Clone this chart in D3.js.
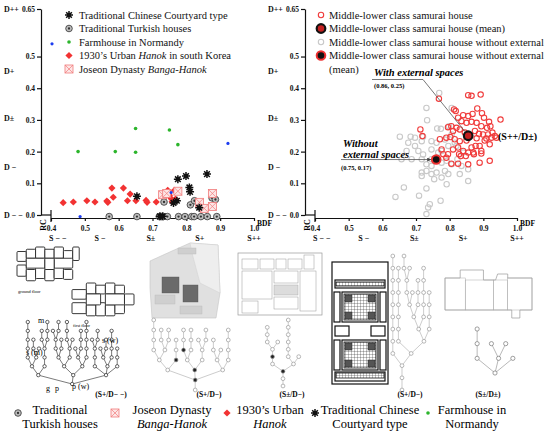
<!DOCTYPE html>
<html>
<head>
<meta charset="utf-8">
<script src="https://cdn.jsdelivr.net/npm/d3@7"></script>
<style>
  body { margin: 0; background: #fff; }
  text { font-family: "Liberation Serif", "Times New Roman", serif; }
</style>
</head>
<body>
<div class="canvas"></div>
<script>
// ---- axis data
const xTicks = [0.4, 0.5, 0.6, 0.7, 0.8, 0.9, 1.0]
const yTicks = [0, 0.1, 0.2, 0.3, 0.4, 0.5, 0.65]
const dLabels = ['D++', 'D+', 'D±', 'D −', 'D − −']
const dLevels = [0.65, 0.455, 0.305, 0.15, 0]
const sLabels = ['S − −', 'S −', 'S±', 'S+', 'S++']
const sLevels = [0.42, 0.545, 0.695, 0.84, 1.0]

// ---- left chart series [BDF, RC]
const chinese = [[0.654, 0.059], [0.775, 0.113], [0.799, 0.123], [0.861, 0.129], [0.809, 0.087],
  [0.811, 0.073], [0.772, 0.045], [0.762, 0.038], [0.838, 0.023], [0.722, -0.004], [0.73, -0.004]]
const turkish = [[0.572, -0.005], [0.654, -0.005], [0.72, -0.005], [0.726, -0.005], [0.732, -0.005],
  [0.744, -0.005], [0.777, -0.005], [0.796, -0.005], [0.816, -0.005], [0.823, -0.005], [0.843, -0.005],
  [0.862, -0.005], [0.89, -0.005], [0.734, 0.041], [0.812, 0.032], [0.824, 0.045], [0.876, 0.054], [0.886, 0.049]]
const normandy = [[0.48, 0.2], [0.59, 0.2], [0.65, 0.198], [0.65, 0.273], [0.75, 0.268], [0.775, 0.222]]
const hanok1930 = [[0.436, 0.039], [0.466, 0.041], [0.506, 0.045], [0.53, 0.041], [0.565, 0.044],
  [0.568, 0.04], [0.584, 0.056], [0.58, 0.085], [0.614, 0.085], [0.626, 0.045], [0.634, 0.066],
  [0.651, 0.045], [0.681, 0.046], [0.684, 0.04], [0.711, 0.041], [0.745, 0.078], [0.75, 0.062],
  [0.755, 0.052], [0.758, 0.042], [0.765, 0.078], [0.768, 0.05]]
const banga = [[0.73, 0.064], [0.742, 0.068], [0.775, 0.075], [0.877, 0.068], [0.839, 0.04],
  [0.853, 0.021], [0.877, 0.027]]
const unlisted = [[0.403, 0.54], [0.486, -0.005], [0.923, 0.226], [0.755, 0.071]]

// ---- right chart series
const samurai = [[0.768, 0.367], [0.855, 0.378], [0.865, 0.376], [0.892, 0.38], [0.813, 0.333],
  [0.818, 0.328], [0.882, 0.336], [0.84, 0.315], [0.855, 0.312], [0.868, 0.319], [0.896, 0.321],
  [0.902, 0.307], [0.951, 0.301], [0.825, 0.307], [0.835, 0.296], [0.85, 0.291], [0.865, 0.294],
  [0.88, 0.291], [0.917, 0.294], [0.921, 0.28], [0.911, 0.275], [0.894, 0.28], [0.795, 0.277],
  [0.805, 0.28], [0.82, 0.275], [0.81, 0.265], [0.83, 0.27], [0.845, 0.26], [0.875, 0.265],
  [0.887, 0.256], [0.899, 0.254], [0.914, 0.254], [0.927, 0.26], [0.934, 0.249], [0.939, 0.244],
  [0.924, 0.244], [0.909, 0.241], [0.713, 0.27], [0.719, 0.249], [0.771, 0.239], [0.79, 0.244],
  [0.802, 0.246], [0.815, 0.239], [0.83, 0.233], [0.85, 0.235], [0.88, 0.242], [0.904, 0.235],
  [0.919, 0.223], [0.889, 0.218], [0.877, 0.218], [0.865, 0.213], [0.825, 0.213], [0.81, 0.207],
  [0.84, 0.202], [0.855, 0.197], [0.87, 0.197], [0.894, 0.202], [0.776, 0.207], [0.781, 0.192],
  [0.795, 0.192], [0.828, 0.192], [0.833, 0.186], [0.848, 0.186], [0.872, 0.192], [0.894, 0.194],
  [0.889, 0.165], [0.919, 0.171], [0.805, 0.162], [0.825, 0.162], [0.855, 0.16], [0.79, 0.181]]
const samuraiNoExt = [[0.769, 0.385], [0.731, 0.338], [0.733, 0.299], [0.774, 0.272], [0.763, 0.273],
  [0.806, 0.338], [0.684, 0.247], [0.697, 0.244], [0.721, 0.247], [0.652, 0.247], [0.677, 0.228],
  [0.697, 0.218], [0.717, 0.233], [0.746, 0.233], [0.761, 0.228], [0.786, 0.238], [0.796, 0.218],
  [0.815, 0.228], [0.707, 0.202], [0.721, 0.191], [0.746, 0.207], [0.766, 0.197], [0.776, 0.202],
  [0.672, 0.202], [0.657, 0.176], [0.687, 0.176], [0.717, 0.176], [0.746, 0.176], [0.731, 0.16],
  [0.746, 0.155], [0.776, 0.165], [0.791, 0.171], [0.806, 0.16], [0.823, 0.176], [0.835, 0.155],
  [0.717, 0.134], [0.731, 0.139], [0.746, 0.129], [0.761, 0.134], [0.786, 0.139], [0.796, 0.129],
  [0.776, 0.118], [0.717, 0.123], [0.754, 0.113], [0.83, 0.129], [0.855, 0.144], [0.855, 0.107],
  [0.791, 0.097], [0.664, 0.087], [0.731, 0.084], [0.709, 0.061], [0.639, 0.057], [0.741, 0.034],
  [0.736, 0.024], [0.731, 0.003], [0.773, 0.045], [0.806, 0.254], [0.82, 0.218], [0.84, 0.197], [0.798, 0.28]]
const meanExt = [0.855, 0.25]
const meanNoExt = [0.76, 0.175]

// ---- legends
const leftLegend = ['Traditional Chinese Courtyard type', 'Traditional Turkish houses', 'Farmhouse in Normandy',
  '1930’s Urban |Hanok| in south Korea', 'Joseon Dynasty |Banga-Hanok|']
const rightLegend = ['Middle-lower class samurai house', 'Middle-lower class samurai house (mean)',
  'Middle-lower class samurai house without  external', 'Middle-lower class samurai house without  external']

// ---- lower panels: graph labels, tree branching (children per node, breadth first)
const panelLabels = ['(S+/D− −)', '(S+/D−)', '(S±/D−)', '(S+/D−)', '(S±/D±)']
const tree1 = [3, 2, 2, 3, 2, 1, 2, 2, 1, 2, 1, 1, 2, 1, 2, 1, 2, 1, 1, 2, 1, 1, 1, 1, 0, 2, 1, 1, 2, 0, 1, 1, 2,
  0, 1, 1, 0, 1, 0, 1, 1, 2, 0, 1, 0, 1, 1, 0, 1, 0, 1, 1, 0, 1, 0, 1, 1, 0, 1]
const tree2 = [1, 3, 2, 2, 2, 2, 1, 2, 1, 2, 1, 1, 2, 1, 1, 1, 2, 1, 0, 1, 1, 1, 1, 0, 1, 1, 0, 1, 0, 1, 1]
const tree2Dark = ['1', '3', '6', '14']
const tree3 = [1, 1, 2, 1, 2, 1, 1, 0, 2, 1, 1, 0, 1, 1, 1, 0, 1]
const tree3Dark = ['2', '5']
const tree4 = [1, 1, 2, 1, 2, 1, 1, 2, 1, 1, 2, 1, 1, 1, 2, 1, 1, 1, 1, 2, 1, 1, 1, 1, 1, 1, 0, 1, 1, 0, 1, 1, 2, 0, 1, 1, 0, 1]
const tree5 = [3, 1, 2, 0, 1, 0, 0]

// plan geometry, [x, y, w, h] in each plan's own units
const groundRooms = [[0, 1, 2, 2.2], [2, 0.5, 2, 2], [4, 0, 2, 2.5], [6, 0.5, 2, 2], [8, 0, 2, 2.5], [10, 0.8, 2, 2],
  [12, 0, 1.4, 3], [0, 4, 2, 2.5], [2, 5, 2, 2.5], [4, 4.5, 2, 2.5], [6, 5, 2, 2.5], [8, 4.5, 2, 2.5], [10, 5, 2, 2.2],
  [2, 2.5, 4, 2.2], [8, 2.5, 4, 2.2], [6, 2.5, 2, 2.5]]
const firstRooms = [[3, 0, 2, 2.5], [5, 0.5, 2, 2], [7, 0, 2, 2.5], [9, 0.5, 2, 2], [0, 1.5, 3, 2.2], [0, 4.5, 3, 2.5],
  [3, 5, 2, 2.5], [5, 4.5, 2, 3], [7, 5, 2, 2.5], [9, 4.5, 2, 2.5], [11, 2.5, 2, 2.5], [3, 2.5, 3, 2.5], [7, 2.5, 4, 2.5]]
const plan2Outline = [[0, 18], [22, 8], [40, 0], [68, 2], [70, 50], [66, 75], [2, 75], [0, 45]]
const plan2Light = [[40, 0], [68, 2], [70, 50], [50, 40], [42, 10]]
const plan2Dark = [[12, 34, 17, 16], [33, 42, 15, 17]]
const plan2Mid = [[28, 5, 18, 6], [5, 52, 20, 9], [30, 63, 22, 8]]
const plan3Rooms = [[4, 14, 16, 10], [22, 14, 14, 10], [38, 14, 10, 10], [50, 14, 14, 10], [66, 10, 10, 14],
  [4, 26, 30, 28], [36, 26, 24, 12], [36, 52, 24, 12], [4, 56, 16, 12], [62, 26, 16, 40]]
const plan4Rooms = [[0, 0, 56, 122], [3, 18, 50, 8], [10, 30, 36, 30], [10, 78, 36, 30], [3, 64, 14, 10],
  [39, 64, 14, 10], [3, 110, 50, 9], [2, 30, 6, 30], [48, 30, 6, 30], [2, 78, 6, 30], [48, 78, 6, 30]]
const plan5Outline = [[0, 10], [15, 10], [15, 2], [38, 2], [38, 12], [50, 12], [52, 6], [62, 6], [62, 10],
  [86, 10], [86, 42], [74, 42], [74, 50], [66, 50], [66, 42], [0, 42]]
const bottomLegend = [['Traditional', 'Turkish houses'], ['Joseon Dynasty', '|Banga-Hanok|'],
  ['1930’s Urban', '|Hanok|'], ['Traditional Chinese', 'Courtyard type'], ['Farmhouse in', 'Normandy']]

const svg = d3.select('.canvas').append('svg').attr('width', 550).attr('height', 441)
const FONT = '"Liberation Serif", "Times New Roman", serif'
const defs = svg.append('defs')

// text with |italic| parts
const richText = (sel, str) => {
  str.split('|').forEach((part, i) => {
    if (part) sel.append('tspan').attr('font-style', i % 2 ? 'italic' : 'normal').text(part)
  })
  return sel
}

// ---- markers
const mark = {
  chinese (g, x, y, r = 4) {
    const p = d3.path()
    for (let a = 0; a < 4; a++) {
      const t = a * Math.PI / 4
      p.moveTo(x - r * Math.cos(t), y - r * Math.sin(t))
      p.lineTo(x + r * Math.cos(t), y + r * Math.sin(t))
    }
    g.append('path').attr('d', p.toString()).attr('stroke', '#111').attr('stroke-width', 1.5)
    g.append('circle').attr('cx', x).attr('cy', y).attr('r', 1.7).attr('fill', '#111')
  },
  turkish (g, x, y, r = 3.3) {
    g.append('circle').attr('cx', x).attr('cy', y).attr('r', r).attr('fill', '#bdbdbd').attr('stroke', '#444').attr('stroke-width', 0.9)
    g.append('circle').attr('cx', x).attr('cy', y).attr('r', r * 0.35).attr('fill', '#333')
  },
  normandy (g, x, y, r = 1.8) {
    g.append('circle').attr('cx', x).attr('cy', y).attr('r', r).attr('fill', '#2cb52c')
  },
  hanok (g, x, y, s = 26) {
    g.append('path').attr('d', d3.symbol(d3.symbolSquare, s)())
      .attr('transform', `translate(${x},${y}) rotate(45)`).attr('fill', '#f23232')
  },
  banga (g, x, y, s = 8) {
    const h = s / 2
    g.append('rect').attr('x', x - h).attr('y', y - h).attr('width', s).attr('height', s)
      .attr('fill', '#fde6e6').attr('stroke', '#f07a7a').attr('stroke-width', 0.8)
    g.append('path').attr('d', `M${x - h},${y - h}L${x + h},${y + h}M${x + h},${y - h}L${x - h},${y + h}`)
      .attr('stroke', '#f07a7a').attr('stroke-width', 0.7)
  },
  blue (g, x, y) {
    g.append('circle').attr('cx', x).attr('cy', y).attr('r', 1.6).attr('fill', '#1c3cf0')
  },
  red (g, x, y) {
    g.append('circle').attr('cx', x).attr('cy', y).attr('r', 2.7).attr('fill', 'none').attr('stroke', '#f03c3c').attr('stroke-width', 1.1)
  },
  grey (g, x, y) {
    g.append('circle').attr('cx', x).attr('cy', y).attr('r', 2.7).attr('fill', 'none').attr('stroke', '#c9c9c9').attr('stroke-width', 1.1)
  },
  meanExt (g, x, y) {
    g.append('circle').attr('cx', x).attr('cy', y).attr('r', 4.3).attr('fill', '#c42020').attr('stroke', '#111').attr('stroke-width', 2.2)
  },
  meanNoExt (g, x, y) {
    g.append('circle').attr('cx', x).attr('cy', y).attr('r', 4.3).attr('fill', '#111').attr('stroke', '#ee3030').attr('stroke-width', 2)
  }
}

// ---- chart frame
const y = d3.scaleLinear().domain([0, 0.65]).range([215, 9])
const baseY = 218

const frame = (xr, axisAt, dAt) => {
  const x = d3.scaleLinear().domain([0.4, 1.0]).range(xr)
  const g = svg.append('g')

  const ya = g.append('g').attr('transform', `translate(${axisAt},0)`)
    .call(d3.axisLeft(y).tickValues(yTicks).tickSize(4).tickSizeOuter(0).tickPadding(2)
      .tickFormat(d => d === 0.65 ? '0.65' : d.toFixed(1)))
  ya.selectAll('text').attr('font-family', FONT).attr('font-size', 7.5).attr('font-weight', 'bold').attr('fill', '#111')
  ya.selectAll('path,line').attr('stroke', '#111').attr('stroke-width', 1.2)

  g.append('line').attr('x1', axisAt).attr('x2', x(0.4)).attr('y1', y(0)).attr('y2', y(0))
    .attr('stroke', '#111').attr('stroke-width', 1.2)
  g.append('line').attr('x1', x(0.4)).attr('x2', x(0.4)).attr('y1', y(0) - 5).attr('y2', baseY + 4)
    .attr('stroke', '#111').attr('stroke-width', 1.2)

  const xa = g.append('g').attr('transform', `translate(0,${baseY})`)
    .call(d3.axisBottom(x).tickValues(xTicks).tickSize(3).tickSizeOuter(0).tickPadding(5).tickFormat(d3.format('.1f')))
  xa.selectAll('text').attr('font-family', FONT).attr('font-size', 7.5).attr('font-weight', 'bold').attr('fill', '#111')
  xa.selectAll('path,line').attr('stroke', '#111').attr('stroke-width', 1.2)

  g.selectAll('.dlab').data(dLabels).join('text')
    .attr('x', dAt).attr('y', (d, i) => y(dLevels[i]) + 3)
    .attr('font-size', 8).attr('font-weight', 'bold').attr('fill', '#111').text(d => d)
  g.selectAll('.slab').data(sLabels).join('text')
    .attr('x', (d, i) => x(sLevels[i])).attr('y', 241).attr('text-anchor', 'middle')
    .attr('font-size', 8).attr('font-weight', 'bold').attr('fill', '#111').text(d => d)
  g.append('text').attr('transform', `translate(${axisAt + 5},${baseY + 7}) rotate(-90)`)
    .attr('text-anchor', 'middle').attr('font-size', 8).attr('font-weight', 'bold').text('RC')
  g.append('text').attr('x', xr[1] + 3).attr('y', baseY + 8)
    .attr('font-size', 7.5).attr('font-weight', 'bold').text('BDF')
  return x
}

// ---- left chart
const xL = frame([51, 254], 41, 4)
const gl = svg.append('g')
const plot = (g, data, fn, xs) => data.forEach(([a, b]) => fn(g, xs(a), y(b)))
plot(gl, turkish, mark.turkish, xL)
plot(gl, hanok1930, mark.hanok, xL)
plot(gl, banga, mark.banga, xL)
plot(gl, normandy, mark.normandy, xL)
plot(gl, chinese, mark.chinese, xL)
plot(gl, unlisted, mark.blue, xL)

const leftMarks = [mark.chinese, mark.turkish, mark.normandy, mark.hanok, mark.banga]
leftLegend.forEach((t, i) => {
  const ly = 15 + i * 13.5
  leftMarks[i](gl, 69, ly)
  richText(gl.append('text').attr('x', 79).attr('y', ly + 3.5).attr('font-size', 10.5).attr('fill', '#111'), t)
})

// ---- right chart
const xR = frame([315, 517], 305, 268)
const gr = svg.append('g')
plot(gr, samuraiNoExt, mark.grey, xR)
plot(gr, samurai, mark.red, xR)
mark.meanNoExt(gr, xR(meanNoExt[0]), y(meanNoExt[1]))
mark.meanExt(gr, xR(meanExt[0]), y(meanExt[1]))

const rightMarks = [mark.red, mark.meanExt, mark.grey, mark.meanNoExt]
rightLegend.forEach((t, i) => {
  const ly = 15 + i * 13.5
  rightMarks[i](gr, 321, ly)
  gr.append('text').attr('x', 329).attr('y', ly + 3.5).attr('font-size', 10.5).attr('fill', '#111').text(t)
})
gr.append('text').attr('x', 329).attr('y', 72.5).attr('font-size', 10.5).attr('fill', '#111').text('(mean)')

// annotations
defs.append('marker').attr('id', 'ah').attr('viewBox', '0 0 6 6').attr('refX', 6).attr('refY', 3)
  .attr('markerWidth', 5).attr('markerHeight', 5).attr('orient', 'auto')
  .append('path').attr('d', 'M0,0L6,3L0,6Z').attr('fill', '#444')
const [mx, my] = [xR(meanExt[0]), y(meanExt[1])]
gr.append('path').attr('d', `M372,79.5H423L${mx - 3},${my - 4}`).attr('fill', 'none')
  .attr('stroke', '#555').attr('stroke-width', 0.8)
gr.append('text').attr('x', 374).attr('y', 76).attr('font-size', 10.5).attr('font-weight', 'bold')
  .attr('font-style', 'italic').text('With external spaces')
gr.append('text').attr('x', 374).attr('y', 88).attr('font-size', 6.5).attr('font-weight', 'bold').text('(0.86, 0.25)')
const [nx, ny] = [xR(meanNoExt[0]), y(meanNoExt[1])]
gr.append('path').attr('d', `M341,${ny}H${nx - 5}`).attr('stroke', '#555').attr('stroke-width', 0.8)
  .attr('marker-end', 'url(#ah)')
gr.append('text').attr('x', 343).attr('y', 147).attr('font-size', 10.5).attr('font-weight', 'bold')
  .attr('font-style', 'italic').text('Without')
gr.append('text').attr('x', 343).attr('y', 158).attr('font-size', 10.5).attr('font-weight', 'bold')
  .attr('font-style', 'italic').text('external spaces')
gr.append('text').attr('x', 341).attr('y', 170).attr('font-size', 6.5).attr('font-weight', 'bold').text('(0.75, 0.17)')
gr.append('text').attr('x', 498).attr('y', 140).attr('font-size', 10).attr('font-weight', 'bold').text('(S++/D±)')

// ---- lower panels
const gp = svg.append('g')

const rooms = (list, xd, yd, xr, yr, style) => {
  const sx = d3.scaleLinear().domain(xd).range(xr)
  const sy = d3.scaleLinear().domain(yd).range(yr)
  gp.selectAll(null).data(list).join('rect')
    .attr('x', d => sx(d[0])).attr('y', d => sy(d[1]))
    .attr('width', d => sx(d[0] + d[2]) - sx(d[0])).attr('height', d => sy(d[1] + d[3]) - sy(d[1]))
    .attr('rx', style.rx || 0).attr('fill', style.fill).attr('stroke', style.stroke).attr('stroke-width', style.sw)
  return [sx, sy]
}
const outline = (pts, sx, sy, fill, stroke, sw) => {
  gp.append('path').attr('d', d3.line().x(d => sx(d[0])).y(d => sy(d[1]))(pts) + 'Z')
    .attr('fill', fill).attr('stroke', stroke).attr('stroke-width', sw)
}

const drawTree = (branching, x0, x1, top, bottom, opts) => {
  const rows = [{ id: '0', parent: '' }]
  let next = 1
  branching.forEach((n, i) => {
    for (let k = 0; k < n; k++) rows.push({ id: String(next++), parent: String(i) })
  })
  const strat = d3.stratify().id(d => d.id).parentId(d => d.parent)
  const root = d3.tree().size([x1 - x0, bottom - top]).separation(() => 1)(strat(rows))
  const px = d => x0 + d.x
  const py = d => bottom - d.y
  gp.selectAll(null).data(root.links()).join('line')
    .attr('x1', d => px(d.source)).attr('y1', d => py(d.source))
    .attr('x2', d => px(d.target)).attr('y2', d => py(d.target))
    .attr('stroke', opts.line).attr('stroke-width', 0.6)
  gp.selectAll(null).data(root.descendants()).join('circle')
    .attr('cx', px).attr('cy', py).attr('r', opts.r)
    .attr('fill', d => (opts.dark || []).includes(d.id) ? '#222' : '#fff')
    .attr('stroke', opts.node).attr('stroke-width', 0.7)
}

// panel 1
rooms(groundRooms, [0, 14], [0, 8], [17, 82], [247, 283], { fill: '#fff', stroke: '#222', sw: 0.9, rx: 1 })
rooms(firstRooms, [0, 13], [0, 8], [72, 134], [283, 318], { fill: '#fff', stroke: '#222', sw: 0.9, rx: 1 })
gp.append('text').attr('x', 18).attr('y', 293).attr('font-size', 4.5).text('ground floor')
gp.append('text').attr('x', 73).attr('y', 327).attr('font-size', 4.5).text('first floor')
drawTree(tree1, 25, 120, 322, 384, { r: 1.7, node: '#222', line: '#222' })
gp.append('text').attr('x', 38).attr('y', 323).attr('font-size', 8).text('m')
gp.append('text').attr('x', 26).attr('y', 355).attr('font-size', 8).text('s (m)')
gp.append('text').attr('x', 102).attr('y', 343).attr('font-size', 8).text('s (w)')
gp.append('text').attr('x', 46).attr('y', 391).attr('font-size', 8).text('g')
gp.append('text').attr('x', 55).attr('y', 391).attr('font-size', 8).text('p')
gp.append('text').attr('x', 72).attr('y', 389).attr('font-size', 8).text('p (w)')

// panel 2
const s2x = d3.scaleLinear().domain([0, 70]).range([150, 220])
const s2y = d3.scaleLinear().domain([0, 75]).range([243, 318])
outline(plan2Outline, s2x, s2y, '#e0e0e0', '#c4c4c4', 0.6)
outline(plan2Light, s2x, s2y, '#eeeeee', '#d0d0d0', 0.5)
rooms(plan2Mid, [0, 70], [0, 75], [150, 220], [243, 318], { fill: '#cfcfcf', stroke: '#bbb', sw: 0.4 })
rooms(plan2Dark, [0, 70], [0, 75], [150, 220], [243, 318], { fill: '#6a6a6a', stroke: '#555', sw: 0.4 })
drawTree(tree2, 150, 232, 320, 390, { r: 1.9, node: '#999', line: '#aaa', dark: tree2Dark })

// panel 3
rooms([[0, 8, 84, 62]], [0, 84], [0, 72], [238, 322], [245, 317], { fill: '#fff', stroke: '#999', sw: 0.7 })
rooms([[36, 40, 24, 10]], [0, 84], [0, 72], [238, 322], [245, 317], { fill: '#dcdcdc', stroke: '#aaa', sw: 0.5 })
rooms(plan3Rooms, [0, 84], [0, 72], [238, 322], [245, 317], { fill: 'none', stroke: '#999', sw: 0.5 })
drawTree(tree3, 262, 304, 320, 386, { r: 1.9, node: '#999', line: '#aaa', dark: tree3Dark })

// panel 4
const hatch = defs.append('pattern').attr('id', 'hatch').attr('width', 3).attr('height', 3)
  .attr('patternUnits', 'userSpaceOnUse')
hatch.append('rect').attr('width', 3).attr('height', 3).attr('fill', '#fff')
hatch.append('path').attr('d', 'M0,0H3M0,0V3').attr('stroke', '#333').attr('stroke-width', 0.6)
rooms(plan4Rooms, [0, 56], [0, 122], [332, 388], [262, 384], { fill: '#fff', stroke: '#111', sw: 1.2 })
rooms([[12, 32, 32, 26], [12, 80, 32, 26], [4, 20, 48, 4], [4, 111, 48, 5]], [0, 56], [0, 122], [332, 388], [262, 384],
  { fill: 'url(#hatch)', stroke: '#111', sw: 0.8 })
rooms([[13, 33, 7, 7], [36, 33, 7, 7], [13, 50, 7, 7], [36, 50, 7, 7], [13, 81, 7, 7], [36, 81, 7, 7], [13, 98, 7, 7], [36, 98, 7, 7]],
  [0, 56], [0, 122], [332, 388], [262, 384], { fill: '#555', stroke: '#222', sw: 0.5 })
drawTree(tree4, 390, 432, 256, 390, { r: 1.9, node: '#999', line: '#aaa' })

// panel 5
const s5x = d3.scaleLinear().domain([0, 86]).range([445, 532])
const s5y = d3.scaleLinear().domain([0, 50]).range([268, 318])
outline(plan5Outline, s5x, s5y, '#fff', '#999', 0.7)
rooms([[0, 10, 20, 32], [20, 12, 28, 30], [48, 12, 14, 30], [62, 10, 24, 32]], [0, 86], [0, 50], [445, 532], [268, 318],
  { fill: 'none', stroke: '#aaa', sw: 0.5 })
drawTree(tree5, 470, 520, 329, 373, { r: 2.1, node: '#777', line: '#888' })

// graph class labels
const labelX = [111, 209, 292, 410, 488]
gp.selectAll('.plab').data(panelLabels).join('text')
  .attr('x', (d, i) => labelX[i]).attr('y', 397).attr('text-anchor', 'middle')
  .attr('font-size', 7.5).attr('font-weight', 'bold').text(d => d)

// ---- bottom legend
const bottomMarks = [mark.turkish, mark.banga, mark.hanok, mark.chinese, mark.normandy]
const markX = [18, 115, 227, 315, 428]
const textX = [60, 172, 270, 370, 472]
const gb = svg.append('g')
bottomLegend.forEach(([a, b], i) => {
  bottomMarks[i](gb, markX[i], 413)
  gb.append('text').attr('x', textX[i]).attr('y', 414).attr('text-anchor', 'middle').attr('font-size', 12.5).text(a)
  richText(gb.append('text').attr('x', textX[i]).attr('y', 428).attr('text-anchor', 'middle').attr('font-size', 12.5), b)
})
</script>
</body>
</html>
